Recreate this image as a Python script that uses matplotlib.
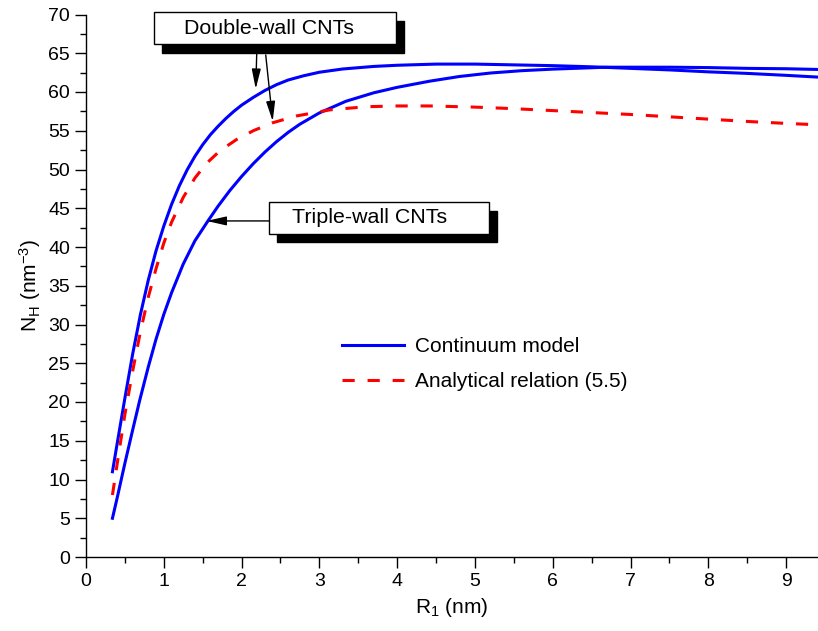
import numpy as np
import matplotlib.pyplot as plt
from matplotlib.patches import Rectangle

plt.rcParams['font.family'] = ['Liberation Sans', 'DejaVu Sans']
plt.rcParams['mathtext.default'] = 'regular'

# double-wall CNTs, continuum model
r_dw = [0.34, 0.40, 0.50, 0.60, 0.70, 0.80, 0.90, 1.00, 1.10, 1.20, 1.30, 1.40,
        1.50, 1.60, 1.70, 1.80, 1.90, 2.00, 2.15, 2.30, 2.45, 2.60, 2.80, 3.00,
        3.30, 3.70, 4.00, 4.50, 5.00, 5.50, 6.00, 6.50, 7.00, 7.50, 8.00, 8.50,
        9.00, 9.45]
n_dw = [11.0, 14.6, 20.5, 26.2, 31.3, 35.7, 39.5, 42.7, 45.5, 47.9, 49.95, 51.7,
        53.2, 54.5, 55.6, 56.6, 57.5, 58.3, 59.3, 60.2, 60.95, 61.55, 62.1, 62.55,
        62.97, 63.3, 63.45, 63.6, 63.6, 63.5, 63.4, 63.25, 63.05, 62.85, 62.6, 62.4,
        62.15, 61.9]

# triple-wall CNTs, continuum model
r_tw = [0.34, 0.40, 0.50, 0.60, 0.69, 0.80, 0.90, 1.00, 1.10, 1.25, 1.40, 1.57,
        1.70, 1.85, 2.00, 2.15, 2.30, 2.45, 2.60, 2.75, 3.00, 3.34, 3.70, 4.00,
        4.42, 4.80, 5.20, 5.60, 6.00, 6.69, 7.50, 8.00, 8.50, 9.00, 9.45]
n_tw = [5.0, 7.6, 12.1, 16.4, 20.2, 24.5, 28.1, 31.3, 34.1, 37.8, 40.8, 43.4,
        45.3, 47.3, 49.1, 50.75, 52.25, 53.6, 54.8, 55.85, 57.3, 58.8, 59.9, 60.6,
        61.4, 62.0, 62.45, 62.75, 62.95, 63.2, 63.2, 63.15, 63.05, 63.0, 62.9]

# analytical relation (5.5)
r_an = [0.34, 0.42, 0.50, 0.60, 0.70, 0.80, 0.90, 1.00, 1.10, 1.25, 1.40, 1.55,
        1.72, 1.94, 2.15, 2.39, 2.70, 3.14, 3.60, 4.00, 4.42, 5.00, 5.50, 6.00,
        6.50, 7.00, 7.50, 8.00, 8.50, 9.00, 9.45]
n_an = [8.0, 13.3, 18.4, 24.0, 29.1, 33.5, 37.2, 40.5, 43.2, 46.4, 48.9, 50.8,
        52.4, 53.9, 55.0, 56.0, 56.9, 57.7, 58.1, 58.2, 58.2, 58.05, 57.85, 57.6,
        57.35, 57.1, 56.8, 56.5, 56.2, 55.95, 55.75]

fig = plt.figure(figsize=(8.18, 6.31), dpi=100)
ax = fig.add_axes([86 / 818, 74 / 631, 732 / 818, 542.5 / 631])

blue = '#0000ff'
red = '#ff0000'
ax.plot(r_dw, n_dw, color=blue, lw=2.2, label='Continuum model')
ax.plot(r_tw, n_tw, color=blue, lw=2.2)
ax.plot(r_an, n_an, color=red, lw=2.2, dashes=(4, 4.2),
        label='Analytical relation (5.5)')

ax.set_xlim(0, 9.41)
ax.set_ylim(0, 70)
ax.set_xticks(np.arange(0, 10, 1))
ax.set_xticks(np.arange(0.5, 9.5, 1), minor=True)
ax.set_yticks(np.arange(0, 71, 5))
ax.set_yticks(np.arange(2.5, 70, 5), minor=True)
for s in ['top', 'right']:
    ax.spines[s].set_visible(False)
for s in ['left', 'bottom']:
    ax.spines[s].set_linewidth(1.0)
ax.tick_params(which='major', direction='out', length=8, width=1.0,
               labelsize=14, pad=3.5)
ax.tick_params(which='minor', direction='out', length=4.3, width=1.0)

ax.set_xlabel('R$_1$ (nm)', fontsize=15, labelpad=4)
ax.set_ylabel('N$_H$ (nm$^{-3}$)', fontsize=15, labelpad=4)

ax.legend(loc='upper left', bbox_to_anchor=(0.335, 0.424), frameon=False,
          fontsize=15, handlelength=3.0, handletextpad=0.5, labelspacing=0.74,
          borderpad=0)


def px_to_data(px, py):
    return (px - 86) / 77.78, (557 - py) / 7.76


def label_box(x0, y0, x1, y1, text, tx):
    # white box with a black drop shadow, corners given in pixels
    xa, ya = px_to_data(x0, y1)
    xb, yb = px_to_data(x1, y0)
    dx, dy = 8 / 77.78, 8.5 / 7.76
    ax.add_patch(Rectangle((xa + dx, ya - dy), xb - xa, yb - ya, facecolor='black',
                           edgecolor='black', clip_on=False, zorder=5))
    ax.add_patch(Rectangle((xa, ya), xb - xa, yb - ya, facecolor='white',
                           edgecolor='black', lw=1.0, clip_on=False, zorder=6))
    xt, _ = px_to_data(tx, 0)
    ax.text(xt, (ya + yb) / 2, text, fontsize=15.4, ha='left', va='center',
            zorder=7, clip_on=False)


label_box(154.3, 11.7, 396, 43.7, 'Double-wall CNTs', 184.3)
label_box(269, 201.7, 489, 233.3, 'Triple-wall CNTs', 291.7)

arrow = dict(arrowstyle='-|>,head_length=0.75,head_width=0.17', color='black',
             lw=1.0, mutation_scale=16, shrinkA=0, shrinkB=0)
ax.annotate('', xy=px_to_data(255.7, 88.3), xytext=px_to_data(256.7, 53.3),
            arrowprops=arrow, zorder=4)
ax.annotate('', xy=px_to_data(272.7, 120.7), xytext=px_to_data(265.7, 54.3),
            arrowprops=arrow, zorder=4)
ax.annotate('', xy=px_to_data(206.5, 220.5), xytext=px_to_data(269, 220.5),
            arrowprops=arrow, zorder=4)

fig.savefig('out.png', dpi=100)
